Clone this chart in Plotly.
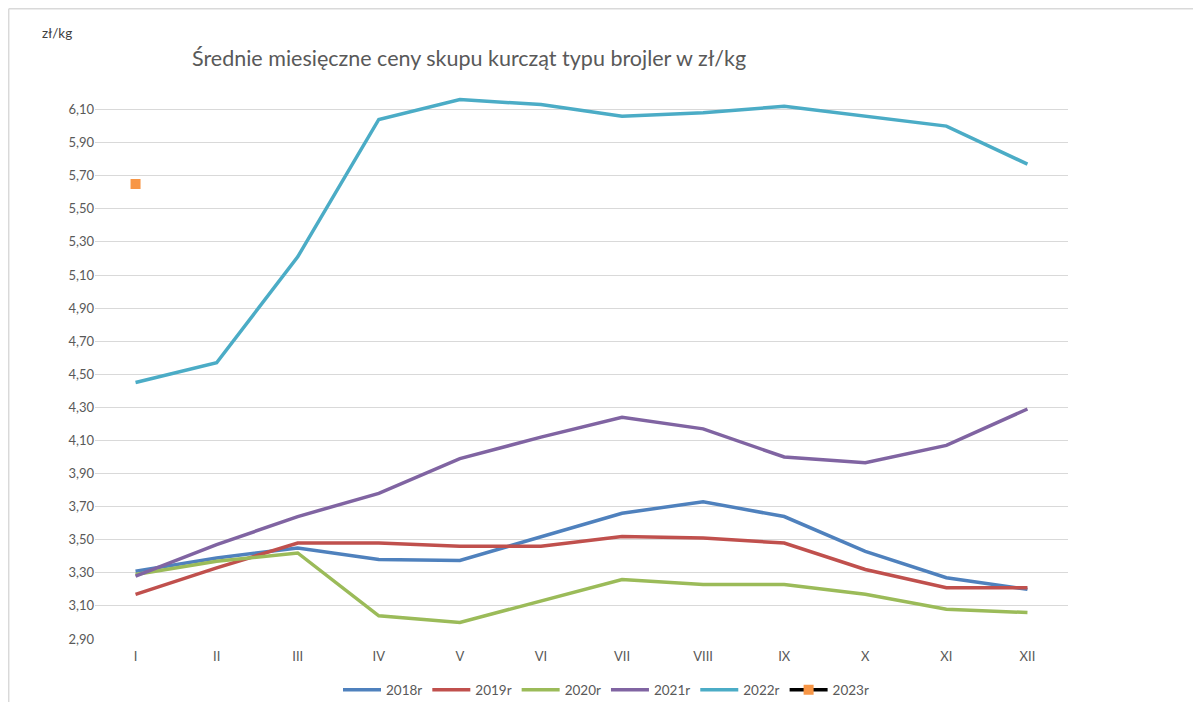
import plotly.graph_objects as go

months = ["I", "II", "III", "IV", "V", "VI", "VII", "VIII", "IX", "X", "XI", "XII"]
y2018 = [3.31, 3.39, 3.45, 3.38, 3.375, 3.52, 3.66, 3.73, 3.64, 3.43, 3.27, 3.20]
y2019 = [3.17, 3.33, 3.48, 3.48, 3.46, 3.46, 3.52, 3.51, 3.48, 3.32, 3.21, 3.21]
y2020 = [3.29, 3.37, 3.42, 3.04, 3.00, 3.13, 3.26, 3.23, 3.23, 3.17, 3.08, 3.06]
y2021 = [3.28, 3.47, 3.64, 3.78, 3.99, 4.12, 4.24, 4.17, 4.00, 3.965, 4.07, 4.29]
y2022 = [4.45, 4.57, 5.21, 6.04, 6.16, 6.13, 6.06, 6.08, 6.12, 6.06, 6.00, 5.77]
y2023 = [5.65]
y_ticks = [2.9, 3.1, 3.3, 3.5, 3.7, 3.9, 4.1, 4.3, 4.5, 4.7, 4.9, 5.1, 5.3, 5.5, 5.7, 5.9, 6.1]
y_tick_labels = [f"{v:.2f}".replace(".", ",") for v in y_ticks]

series = [
    ("2018r", y2018, "#4F81BD"),
    ("2019r", y2019, "#C0504D"),
    ("2020r", y2020, "#9BBB59"),
    ("2021r", y2021, "#8064A2"),
    ("2022r", y2022, "#4BACC6"),
]

fig = go.Figure()
for name, vals, col in series:
    fig.add_trace(go.Scatter(x=months, y=vals, mode="lines", name=name,
                             line=dict(color=col, width=3.5)))
fig.add_trace(go.Scatter(x=months[:1], y=y2023, mode="lines+markers", name="2023r",
                         line=dict(color="black", width=3.5),
                         marker=dict(symbol="square", size=10, color="#F79646")))

# page body has an 8px margin; figure is 1193x694 so that it fills 1201x702
W, H = 1193, 694
ML, MR, MT, MB = 87, 133, 85, 63
PW, PH = W - ML - MR, H - MT - MB


def px_x(px):
    return (px - 8 - ML) / PW


def px_y(py):
    return (H - MB - (py - 8)) / PH


font_fam = "Lato, 'Open Sans', sans-serif"
fig.update_layout(
    width=W, height=H,
    margin=dict(l=ML, r=MR, t=MT, b=MB, autoexpand=False),
    paper_bgcolor="white", plot_bgcolor="white",
    font=dict(family=font_fam, color="#595959", size=13),
    showlegend=True,
    legend=dict(orientation="h", x=px_x(606), xanchor="center", y=px_y(690), yanchor="middle",
                font=dict(size=13.5, color="#595959"), itemwidth=38, tracegroupgap=0),
    xaxis=dict(type="category", range=[-0.5, 11.5], showgrid=False, showline=False,
               ticks="", tickfont=dict(size=13, color="#595959"), ticklabelstandoff=8),
    yaxis=dict(range=[2.9, 6.2], tickvals=y_ticks, ticktext=y_tick_labels,
               showgrid=True, gridcolor="#d9d9d9", gridwidth=1, zeroline=False,
               showline=False, ticks="", tickfont=dict(size=13, color="#595959"),
               ticklabelstandoff=0),
    annotations=[
        dict(text="Średnie miesięczne ceny skupu kurcząt typu brojler w zł/kg",
             xref="paper", yref="paper", x=px_x(190), y=px_y(58),
             xanchor="left", yanchor="middle", showarrow=False,
             font=dict(size=21.5, color="#595959", family=font_fam)),
        dict(text="zł/kg", xref="paper", yref="paper", x=px_x(40), y=px_y(33),
             xanchor="left", yanchor="middle", showarrow=False,
             font=dict(size=13.5, color="#404040", family=font_fam)),
    ],
    shapes=[
        dict(type="line", xref="paper", yref="paper", x0=px_x(8.7), x1=px_x(1201),
             y0=px_y(8.7), y1=px_y(8.7), line=dict(color="#d9d9d9", width=1.5)),
        dict(type="line", xref="paper", yref="paper", x0=px_x(8.7), x1=px_x(8.7),
             y0=px_y(8.7), y1=px_y(702), line=dict(color="#d9d9d9", width=1.5)),
    ],
)

fig.write_html("out.html")
